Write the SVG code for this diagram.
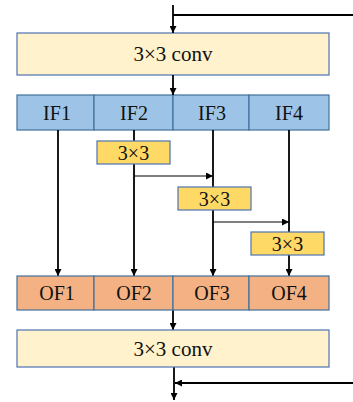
<svg xmlns="http://www.w3.org/2000/svg" width="353" height="402" viewBox="0 0 353 402">
  <style>
    text { font-family: "Liberation Serif", "DejaVu Serif", serif; fill: #111; text-anchor: middle; }
    .conv rect { fill: #FFF2CC; stroke: #4F72B0; stroke-width: 1.2; }
    .inf rect { fill: #9DC3E6; stroke: #41719C; stroke-width: 1.2; }
    .outf rect { fill: #F4B183; stroke: #41719C; stroke-width: 1.2; }
    .k rect { fill: #FFD966; stroke: #4F72B0; stroke-width: 1.2; }
    .wire { stroke: #000; stroke-width: 1.8; fill: none; }
    .thin { stroke: #000; stroke-width: 1.1; fill: none; }
  </style>
  <defs>
    <marker id="ah" viewBox="0 0 10 10" refX="10" refY="5" markerWidth="7" markerHeight="7" markerUnits="userSpaceOnUse" orient="auto">
      <path d="M0,0 L10,5 L0,10 z" fill="#000"/>
    </marker>
    <marker id="ahs" viewBox="0 0 10 10" refX="10" refY="5" markerWidth="7" markerHeight="7" markerUnits="userSpaceOnUse" orient="auto">
      <path d="M0,0 L10,5 L0,10 z" fill="#000"/>
    </marker>
  </defs>

  <g id="conv-in" class="conv">
    <rect x="17" y="33" width="312" height="42"/>
    <text x="173" y="61" font-size="21" font-family="Liberation Serif, serif">3×3 conv</text>
  </g>

  <g id="if1" class="inf"><rect x="17" y="95" width="77" height="35"/><text x="57" y="120" font-size="20" font-family="Liberation Serif, serif">IF1</text></g>
  <g id="if2" class="inf"><rect x="94" y="95" width="79" height="35"/><text x="134" y="120" font-size="20" font-family="Liberation Serif, serif">IF2</text></g>
  <g id="if3" class="inf"><rect x="173" y="95" width="76" height="35"/><text x="212" y="120" font-size="20" font-family="Liberation Serif, serif">IF3</text></g>
  <g id="if4" class="inf"><rect x="249" y="95" width="80" height="35"/><text x="289" y="120" font-size="20" font-family="Liberation Serif, serif">IF4</text></g>

  <g id="connectors">
    <!-- skip input -->
    <line class="wire" x1="173" y1="5" x2="173" y2="33" marker-end="url(#ah)"/>
    <line class="wire" x1="173" y1="15" x2="353" y2="15"/>
    <line class="wire" x1="173" y1="75" x2="173" y2="95" marker-end="url(#ah)"/>
    <!-- splits to outputs -->
    <line class="wire" x1="58" y1="130" x2="58" y2="276" marker-end="url(#ah)"/>
    <line class="wire" x1="134" y1="130" x2="134" y2="141"/>
    <line class="wire" x1="134" y1="164" x2="134" y2="276" marker-end="url(#ah)"/>
    <line class="wire" x1="213" y1="130" x2="213" y2="187"/>
    <line class="wire" x1="213" y1="210" x2="213" y2="276" marker-end="url(#ah)"/>
    <line class="wire" x1="289" y1="130" x2="289" y2="232"/>
    <line class="wire" x1="289" y1="255" x2="289" y2="276" marker-end="url(#ah)"/>
    <!-- hierarchical feeds -->
    <line class="thin" x1="134" y1="176" x2="213" y2="176" marker-end="url(#ahs)"/>
    <line class="thin" x1="213" y1="222" x2="289" y2="222" marker-end="url(#ahs)"/>
    <!-- output side -->
    <line class="wire" x1="173" y1="310" x2="173" y2="330" marker-end="url(#ah)"/>
    <line class="wire" x1="174" y1="367" x2="174" y2="400" marker-end="url(#ah)"/>
    <line class="wire" x1="353" y1="383" x2="175" y2="383" marker-end="url(#ah)"/>
  </g>

  <g id="k2" class="k"><rect x="97" y="141" width="73" height="23"/><text x="133.5" y="159.5" font-size="20" font-family="Liberation Serif, serif">3×3</text></g>
  <g id="k3" class="k"><rect x="178" y="187" width="73" height="23"/><text x="214.5" y="205.5" font-size="20" font-family="Liberation Serif, serif">3×3</text></g>
  <g id="k4" class="k"><rect x="251" y="232" width="73" height="23"/><text x="287.5" y="250.5" font-size="20" font-family="Liberation Serif, serif">3×3</text></g>

  <g id="of1" class="outf"><rect x="17" y="276" width="77" height="34"/><text x="57" y="300" font-size="20" font-family="Liberation Serif, serif">OF1</text></g>
  <g id="of2" class="outf"><rect x="94" y="276" width="79" height="34"/><text x="134" y="300" font-size="20" font-family="Liberation Serif, serif">OF2</text></g>
  <g id="of3" class="outf"><rect x="173" y="276" width="76" height="34"/><text x="212" y="300" font-size="20" font-family="Liberation Serif, serif">OF3</text></g>
  <g id="of4" class="outf"><rect x="249" y="276" width="80" height="34"/><text x="289" y="300" font-size="20" font-family="Liberation Serif, serif">OF4</text></g>

  <g id="conv-out" class="conv">
    <rect x="17" y="330" width="312" height="37"/>
    <text x="173" y="356" font-size="21" font-family="Liberation Serif, serif">3×3 conv</text>
  </g>
</svg>
